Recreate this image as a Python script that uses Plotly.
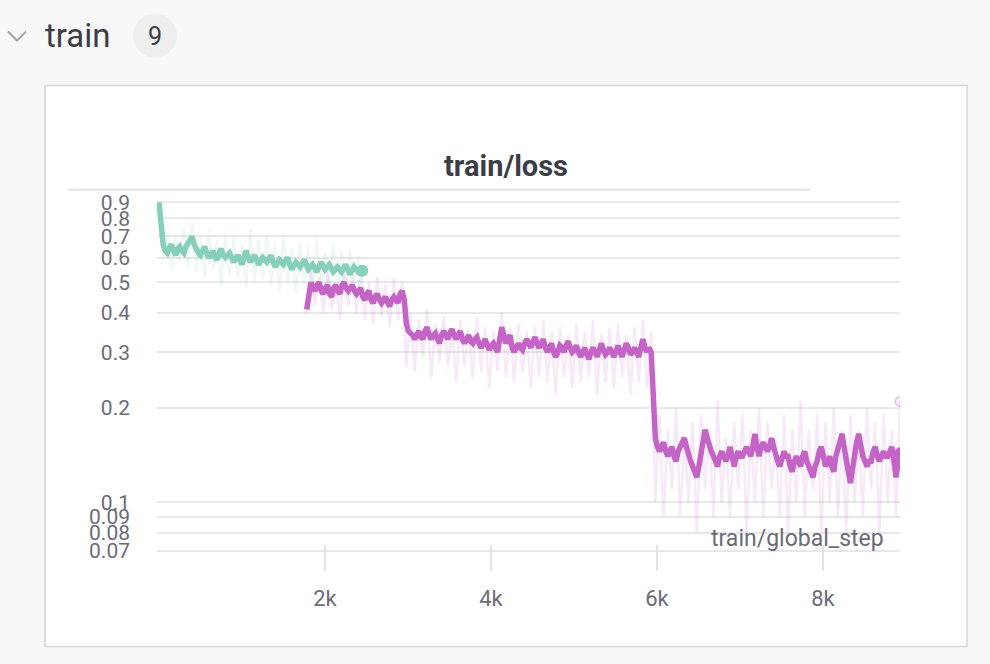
import plotly.graph_objects as go

# ---------------- data ----------------
# smoothed curves, logged every 25 steps
green_smooth = [0.90, 0.78, 0.66, 0.63, 0.62, 0.645, 0.66, 0.63, 0.61, 0.64,
                0.65, 0.63, 0.62, 0.65, 0.67, 0.69, 0.70, 0.66, 0.63, 0.62,
                0.61, 0.64, 0.65, 0.62, 0.60, 0.615, 0.63, 0.60, 0.59, 0.62,
                0.64, 0.61, 0.60, 0.61, 0.62, 0.60, 0.58, 0.595, 0.61, 0.59,
                0.57, 0.60, 0.63, 0.60, 0.58, 0.595, 0.61, 0.59, 0.57, 0.585,
                0.60, 0.59, 0.58, 0.595, 0.61, 0.58, 0.56, 0.575, 0.59, 0.58,
                0.57, 0.585, 0.60, 0.57, 0.55, 0.565, 0.58, 0.57, 0.56, 0.575,
                0.59, 0.57, 0.55, 0.56, 0.57, 0.555, 0.54, 0.56, 0.58, 0.565,
                0.55, 0.56, 0.57, 0.555, 0.54, 0.55, 0.56, 0.55, 0.54, 0.555,
                0.57, 0.55, 0.53, 0.545, 0.56, 0.55, 0.54, 0.55, 0.545]
green_smooth_steps = list(range(0, 25 * len(green_smooth), 25))

pink_smooth = [0.41, 0.46, 0.50, 0.48, 0.47, 0.49, 0.50, 0.47, 0.46, 0.48,
               0.49, 0.46, 0.45, 0.48, 0.49, 0.47, 0.46, 0.49, 0.50, 0.48,
               0.47, 0.48, 0.49, 0.47, 0.46, 0.47, 0.48, 0.45, 0.44, 0.46,
               0.47, 0.44, 0.43, 0.45, 0.46, 0.44, 0.43, 0.44, 0.45, 0.43,
               0.42, 0.44, 0.45, 0.44, 0.43, 0.46, 0.47, 0.44, 0.37, 0.35,
               0.345, 0.34, 0.33, 0.345, 0.35, 0.335, 0.33, 0.35, 0.36, 0.34,
               0.33, 0.34, 0.345, 0.33, 0.32, 0.34, 0.35, 0.34, 0.33, 0.345,
               0.355, 0.34, 0.33, 0.34, 0.35, 0.33, 0.32, 0.33, 0.34, 0.325,
               0.32, 0.33, 0.335, 0.32, 0.31, 0.32, 0.33, 0.315, 0.305, 0.315,
               0.32, 0.31, 0.30, 0.33, 0.36, 0.34, 0.32, 0.33, 0.34, 0.31,
               0.30, 0.31, 0.32, 0.31, 0.305, 0.32, 0.33, 0.32, 0.31, 0.325,
               0.335, 0.32, 0.31, 0.32, 0.33, 0.31, 0.30, 0.31, 0.32, 0.30,
               0.29, 0.30, 0.315, 0.31, 0.30, 0.315, 0.325, 0.31, 0.30, 0.305,
               0.315, 0.30, 0.29, 0.30, 0.31, 0.295, 0.285, 0.30, 0.31, 0.30,
               0.29, 0.305, 0.32, 0.305, 0.295, 0.30, 0.31, 0.30, 0.29, 0.30,
               0.315, 0.30, 0.29, 0.305, 0.32, 0.31, 0.295, 0.30, 0.31, 0.30,
               0.29, 0.31, 0.33, 0.31, 0.30, 0.31, 0.30, 0.22, 0.16, 0.15,
               0.145, 0.15, 0.155, 0.145, 0.14, 0.145, 0.15, 0.14, 0.135, 0.145,
               0.15, 0.155, 0.16, 0.15, 0.14, 0.135, 0.13, 0.125, 0.12, 0.13,
               0.14, 0.155, 0.17, 0.16, 0.15, 0.145, 0.14, 0.135, 0.13, 0.14,
               0.145, 0.14, 0.135, 0.14, 0.15, 0.14, 0.13, 0.14, 0.145, 0.14,
               0.14, 0.145, 0.15, 0.145, 0.14, 0.15, 0.165, 0.15, 0.14, 0.15,
               0.155, 0.15, 0.145, 0.15, 0.16, 0.15, 0.14, 0.135, 0.13, 0.14,
               0.145, 0.14, 0.14, 0.13, 0.125, 0.135, 0.14, 0.135, 0.13, 0.14,
               0.145, 0.135, 0.13, 0.125, 0.12, 0.13, 0.135, 0.145, 0.15, 0.14,
               0.13, 0.135, 0.14, 0.13, 0.125, 0.14, 0.15, 0.155, 0.165, 0.15,
               0.14, 0.125, 0.115, 0.13, 0.145, 0.155, 0.165, 0.15, 0.14, 0.135,
               0.13, 0.135, 0.135, 0.145, 0.15, 0.14, 0.135, 0.14, 0.145, 0.14,
               0.14, 0.145, 0.15, 0.135, 0.12, 0.135, 0.143]
pink_smooth_steps = list(range(8930 - 25 * (len(pink_smooth) - 1), 8931, 25))

# raw curves, logged every 50 steps
green_raw = [0.90, 0.60, 0.72, 0.55, 0.70, 0.58, 0.75, 0.56, 0.78, 0.54,
             0.70, 0.52, 0.73, 0.55, 0.68, 0.50, 0.72, 0.53, 0.70, 0.52,
             0.66, 0.48, 0.74, 0.50, 0.68, 0.51, 0.70, 0.49, 0.66, 0.47,
             0.70, 0.50, 0.64, 0.46, 0.67, 0.49, 0.65, 0.45, 0.69, 0.48,
             0.62, 0.47, 0.66, 0.46, 0.63, 0.44, 0.64, 0.47, 0.60, 0.50]
green_raw_steps = list(range(0, 50 * len(green_raw), 50))

pink_raw = [0.40, 0.56, 0.42, 0.52, 0.40, 0.55, 0.41, 0.50, 0.38, 0.57,
            0.42, 0.52, 0.40, 0.54, 0.38, 0.50, 0.37, 0.52, 0.39, 0.49,
            0.36, 0.52, 0.38, 0.50,
            0.27, 0.40, 0.26, 0.38, 0.29, 0.41, 0.25, 0.37, 0.28, 0.39,
            0.27, 0.36, 0.24, 0.38, 0.27, 0.35, 0.25, 0.39, 0.26, 0.36,
            0.23, 0.35, 0.26, 0.40, 0.25, 0.36, 0.24, 0.37, 0.26, 0.35,
            0.23, 0.36, 0.25, 0.38, 0.24, 0.35, 0.22, 0.36, 0.25, 0.34,
            0.23, 0.37, 0.24, 0.35, 0.25, 0.38, 0.22, 0.34, 0.24, 0.36,
            0.23, 0.37, 0.25, 0.34, 0.22, 0.36, 0.24, 0.38, 0.23, 0.35,
            0.10, 0.19, 0.09, 0.17, 0.11, 0.20, 0.09, 0.16, 0.10, 0.18,
            0.08, 0.19, 0.11, 0.17, 0.09, 0.21, 0.10, 0.16, 0.09, 0.18,
            0.11, 0.19, 0.08, 0.17, 0.10, 0.20, 0.09, 0.18, 0.11, 0.16,
            0.09, 0.19, 0.08, 0.17, 0.10, 0.21, 0.09, 0.17, 0.11, 0.19,
            0.08, 0.18, 0.10, 0.20, 0.09, 0.17, 0.08, 0.19, 0.10, 0.17,
            0.09, 0.20, 0.11, 0.18, 0.08, 0.19, 0.10, 0.17, 0.09, 0.209]
pink_raw_steps = list(range(8930 - 50 * (len(pink_raw) - 1), 8931, 50))

y_tickvals = [0.07, 0.08, 0.09, 0.1, 0.2, 0.3, 0.4, 0.5, 0.6, 0.7, 0.8, 0.9]
y_ticktext = ["0.07", "0.08", "0.09", "0.1", "0.2", "0.3", "0.4", "0.5", "0.6", "0.7", "0.8", "0.9"]
x_tickvals = [2000, 4000, 6000, 8000]
x_ticktext = ["2k", "4k", "6k", "8k"]

# ---------------- styling ----------------
W, H = 990, 664
def px(x): return x / W
def py(y):
    # small correction for the vertical placement observed in the rendered page
    y = (y - 4.5) / 0.982
    return 1 - y / H

GREEN = "#86cfbb"
PINK = "#c564c7"
FONT = "Roboto"
TXT = "#3b3e46"
TICK = "#6b6c77"

fig = go.Figure()
fig.add_trace(go.Scatter(x=pink_raw_steps, y=pink_raw, mode="lines",
                         line=dict(color="rgba(197,100,199,0.14)", width=2.5), hoverinfo="skip"))
fig.add_trace(go.Scatter(x=green_raw_steps, y=green_raw, mode="lines",
                         line=dict(color="rgba(134,207,187,0.14)", width=2.5), hoverinfo="skip"))
fig.add_trace(go.Scatter(x=[pink_raw_steps[-1]], y=[pink_raw[-1]], mode="markers",
                         marker=dict(size=10, color="rgba(197,100,199,0.12)",
                                     line=dict(color="rgba(197,100,199,0.35)", width=1.5))))
fig.add_trace(go.Scatter(x=pink_smooth_steps, y=pink_smooth, mode="lines",
                         line=dict(color=PINK, width=5.5)))
fig.add_trace(go.Scatter(x=[pink_smooth_steps[-1]], y=[pink_smooth[-1]], mode="markers",
                         marker=dict(size=12, color=PINK)))
fig.add_trace(go.Scatter(x=green_smooth_steps, y=green_smooth, mode="lines",
                         line=dict(color=GREEN, width=5.5)))
fig.add_trace(go.Scatter(x=[green_smooth_steps[-1]], y=[green_smooth[-1]], mode="markers",
                         marker=dict(size=12, color=GREEN)))

shapes = [
    dict(type="rect", xref="paper", yref="paper", x0=px(45), x1=px(967), y0=py(645), y1=py(85),
         fillcolor="white", line=dict(color="#d6d6d8", width=1.5), layer="below"),
    dict(type="line", xref="paper", yref="paper", x0=px(68), x1=px(810), y0=py(189), y1=py(189),
         line=dict(color="#e3e3e7", width=2)),
    dict(type="circle", xref="paper", yref="paper", x0=px(133), x1=px(177), y0=py(57), y1=py(13),
         fillcolor="#efefef", line=dict(width=0)),
    dict(type="path", xref="paper", yref="paper",
         path=f"M {px(8)},{py(31)} L {px(17)},{py(40)} L {px(26)},{py(31)}",
         line=dict(color="#a3a3a6", width=2)),
]

annotations = [
    dict(text="train", x=px(43), y=py(35), xref="paper", yref="paper", xanchor="left", yanchor="middle",
         showarrow=False, font=dict(family=FONT, size=33, color=TXT)),
    dict(text="9", x=px(155), y=py(36), xref="paper", yref="paper", xanchor="center", yanchor="middle",
         showarrow=False, font=dict(family=FONT, size=25, color=TXT)),
    dict(text="<b>train/loss</b>", x=px(506), y=py(165), xref="paper", yref="paper",
         xanchor="center", yanchor="middle", showarrow=False, font=dict(family=FONT, size=29, color=TXT)),
    dict(text="train/global_step", x=px(886), y=py(537), xref="paper", yref="paper",
         xanchor="right", yanchor="middle", showarrow=False, font=dict(family=FONT, size=23, color=TICK)),
]

fig.update_layout(
    width=W, height=H, margin=dict(l=0, r=0, t=0, b=0),
    paper_bgcolor="#f8f8f8", plot_bgcolor="white",
    showlegend=False, shapes=shapes, annotations=annotations,
    xaxis=dict(domain=[px(157), px(900)], range=[-24, 8928], showgrid=False, zeroline=False,
               showline=False, anchor="free", position=py(543),
               ticks="outside", ticklen=26, tickwidth=2, tickcolor="#e3e3e7",
               tickmode="array", tickvals=x_tickvals, ticktext=x_ticktext,
               ticklabelstandoff=8,
               tickfont=dict(family=FONT, size=22, color=TICK)),
    yaxis=dict(type="log", domain=[py(556), py(195)], range=[-1.1752, -0.0255],
               showgrid=True, gridcolor="#e8e8ec", gridwidth=1.5, zeroline=False, showline=False,
               tickmode="array", tickvals=y_tickvals, ticktext=y_ticktext,
               ticks="", ticklabelstandoff=26,
               tickfont=dict(family=FONT, size=21, color=TICK)),
)

fig.write_html("out.html")
